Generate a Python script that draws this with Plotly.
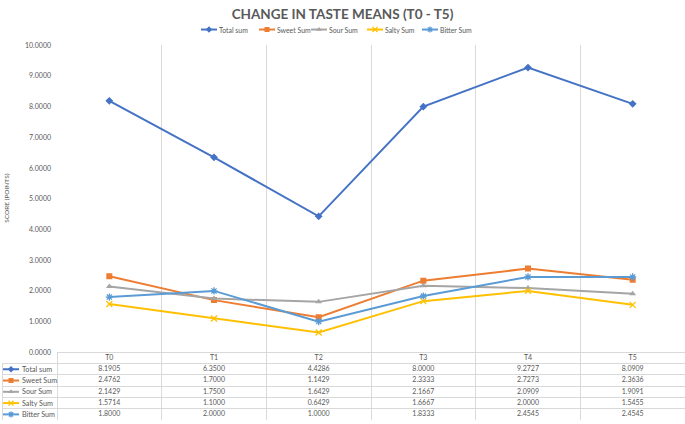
import plotly.graph_objects as go

FONT_FAMILY = "Lato, Carlito, Open Sans, sans-serif"
TEXT_COLOR = "#595959"
GRID_COLOR = "#D9D9D9"

TIMES = ["T0", "T1", "T2", "T3", "T4", "T5"]
SERIES_NAMES = ["Total sum", "Sweet Sum", "Sour Sum", "Salty Sum", "Bitter Sum"]
TOTAL_SUM = [8.1905, 6.3500, 4.4286, 8.0000, 9.2727, 8.0909]
SWEET_SUM = [2.4762, 1.7000, 1.1429, 2.3333, 2.7273, 2.3636]
SOUR_SUM = [2.1429, 1.7500, 1.6429, 2.1667, 2.0909, 1.9091]
SALTY_SUM = [1.5714, 1.1000, 0.6429, 1.6667, 2.0000, 1.5455]
BITTER_SUM = [1.8000, 2.0000, 1.0000, 1.8333, 2.4545, 2.4545]
SERIES_VALUES = [TOTAL_SUM, SWEET_SUM, SOUR_SUM, SALTY_SUM, BITTER_SUM]

COLORS = ["#4472C4", "#ED7D31", "#A5A5A5", "#FFC000", "#5B9BD5"]
SYMBOLS = ["diamond", "square", "triangle-up", "x-thin-open", "asterisk-open"]

# page geometry in pixels, margins are zero so paper == page
W, H = 685, 424
PLOT_LEFT, PLOT_TOP, PLOT_BOTTOM = 57, 41, 354
TABLE_LEFT, TABLE_BOTTOM = 2, 423
LEGEND_Y = 25
LEGEND_SWATCH_X = [201, 259, 311, 367, 422]

n = len(TIMES)
n_rows = len(SERIES_NAMES) + 1
col_w = (W - PLOT_LEFT) / n
x2_left = -0.5 - (PLOT_LEFT - TABLE_LEFT) / col_w


def fy(py):
    return (H - py) / H


def marker_style(color, sym, size=6):
    open_sym = sym.endswith("open")
    return dict(symbol=sym, size=size, color=color,
                line=dict(color=color, width=1.3 if open_sym else 0))


fig = go.Figure()
xs = list(range(n))

for name, vals, color, sym in zip(SERIES_NAMES, SERIES_VALUES, COLORS, SYMBOLS):
    fig.add_trace(go.Scatter(
        x=xs, y=vals, name=name, mode="lines+markers",
        line=dict(color=color, width=2), marker=marker_style(color, sym),
        showlegend=False, xaxis="x", yaxis="y",
    ))

# data table under the chart
cell_font = dict(family=FONT_FAMILY, size=7, color=TEXT_COLOR)
label_font = dict(family=FONT_FAMILY, size=7.2, color=TEXT_COLOR)
legend_font = dict(family=FONT_FAMILY, size=6.9, color=TEXT_COLOR)
fig.add_trace(go.Scatter(
    x=xs, y=[n_rows - 0.5] * n, text=TIMES, mode="text",
    textfont=cell_font, showlegend=False, hoverinfo="skip",
    xaxis="x2", yaxis="y2",
))
row_h = (TABLE_BOTTOM - PLOT_BOTTOM) / n_rows
for i, (name, vals, color, sym) in enumerate(zip(SERIES_NAMES, SERIES_VALUES, COLORS, SYMBOLS)):
    fig.add_trace(go.Scatter(
        x=xs, y=[n_rows - 1.5 - i] * n, text=[f"{v:.4f}" for v in vals], mode="text",
        textfont=cell_font, showlegend=False, hoverinfo="skip",
        xaxis="x2", yaxis="y2",
    ))
    # row key: swatch + label, in page pixels
    py = PLOT_BOTTOM + row_h * (1.5 + i)
    fig.add_shape(type="line", xref="x3", yref="y3", x0=3, x1=19, y0=py, y1=py,
                  line=dict(color=color, width=2))
    fig.add_trace(go.Scatter(
        x=[11], y=[py], mode="markers", marker=marker_style(color, sym, 5),
        showlegend=False, hoverinfo="skip", xaxis="x3", yaxis="y3",
    ))
    fig.add_annotation(text=name, xref="x3", yref="y3", x=20, y=py,
                       xanchor="left", yanchor="middle", showarrow=False,
                       font=label_font)

# legend on top
for name, color, sym, lx in zip(SERIES_NAMES, COLORS, SYMBOLS, LEGEND_SWATCH_X):
    fig.add_shape(type="line", xref="x3", yref="y3", x0=lx, x1=lx + 16,
                  y0=LEGEND_Y, y1=LEGEND_Y, line=dict(color=color, width=2))
    fig.add_trace(go.Scatter(
        x=[lx + 8], y=[LEGEND_Y], mode="markers", marker=marker_style(color, sym, 5),
        showlegend=False, hoverinfo="skip", xaxis="x3", yaxis="y3",
    ))
    fig.add_annotation(text=name, xref="x3", yref="y3", x=lx + 16, y=LEGEND_Y,
                       xanchor="left", yanchor="middle", showarrow=False,
                       font=legend_font)

# left border of the label column
fig.add_shape(type="line", xref="x3", yref="y3", x0=TABLE_LEFT + 0.5, x1=TABLE_LEFT + 0.5,
              y0=PLOT_BOTTOM + row_h, y1=TABLE_BOTTOM, line=dict(color=GRID_COLOR, width=1))

boundaries = [i - 0.5 for i in range(n + 1)]

fig.update_layout(
    width=W, height=H,
    margin=dict(l=0, r=0, t=0, b=0),
    paper_bgcolor="white", plot_bgcolor="rgba(0,0,0,0)",
    font=dict(family=FONT_FAMILY, size=7, color=TEXT_COLOR),
    showlegend=False,
    title=dict(text="<b>CHANGE IN TASTE MEANS (T0 - T5)</b>",
               x=0.5, xanchor="center", y=fy(14), yanchor="middle",
               font=dict(family=FONT_FAMILY, size=13.5, color=TEXT_COLOR)),
    xaxis=dict(domain=[PLOT_LEFT / W, 1], range=[-0.5, n - 0.5],
               tickvals=boundaries, showticklabels=False, ticks="",
               showgrid=True, gridcolor=GRID_COLOR, gridwidth=1,
               showline=True, linecolor=GRID_COLOR, zeroline=False, anchor="y"),
    yaxis=dict(domain=[fy(PLOT_BOTTOM), fy(PLOT_TOP)], range=[0, 10],
               tickvals=list(range(11)), tickformat=".4f", showgrid=False,
               zeroline=False, tickfont=dict(size=7, color=TEXT_COLOR),
               ticklabelstandoff=5, anchor="x"),
    xaxis2=dict(domain=[TABLE_LEFT / W, 1], range=[x2_left, n - 0.5], tickvals=boundaries,
                showticklabels=False, ticks="", showgrid=True,
                gridcolor=GRID_COLOR, zeroline=False, anchor="y2"),
    yaxis2=dict(domain=[fy(TABLE_BOTTOM), fy(PLOT_BOTTOM)], range=[0, n_rows],
                tickvals=list(range(n_rows)), showticklabels=False, ticks="",
                showgrid=True, gridcolor=GRID_COLOR, zeroline=False, anchor="x2"),
    xaxis3=dict(domain=[0, 1], range=[0, W], visible=False, anchor="y3"),
    yaxis3=dict(domain=[0, 1], range=[H, 0], visible=False, anchor="x3"),
)
fig.add_annotation(text="SCORE (POINTS)", textangle=-90, xref="x3", yref="y3",
                   x=7, y=(PLOT_TOP + PLOT_BOTTOM) / 2, showarrow=False,
                   font=dict(size=6.5, color=TEXT_COLOR))

fig.write_html("out.html", config={"displayModeBar": False},
               post_script="document.body.style.margin='0';")
